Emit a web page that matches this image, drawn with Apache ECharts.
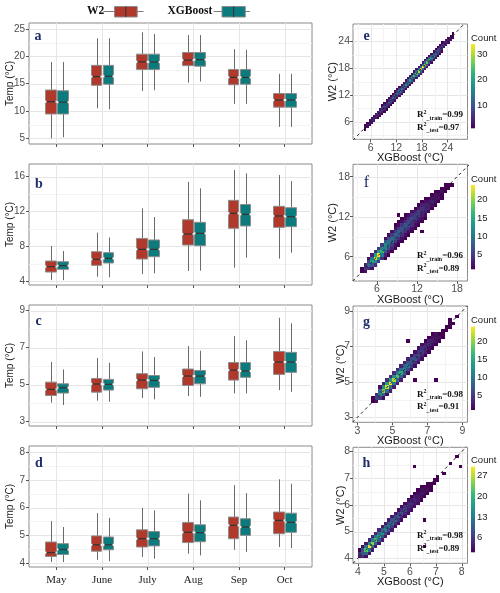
<!DOCTYPE html>
<html><head><meta charset="utf-8">
<script src="https://cdn.jsdelivr.net/npm/echarts@6/dist/echarts.min.js"></script>
<style>html,body{margin:0;padding:0;background:#fff}#c{width:500px;height:593px}</style>
</head><body><div id="c"></div>
<script>
// ---------------- data ----------------
const months = ['May','June','July','Aug','Sep','Oct'];
// box stats: [lowerWhisker, Q1, median, Q3, upperWhisker]
const aW2  = [[5.0,9.45,11.7,13.84,18.96],[10.5,14.7,16.3,18.35,23.3],[13.65,17.6,19.0,20.4,24.4],[15.2,18.3,19.3,20.7,23.9],[11.3,14.8,16.15,17.6,21.3],[7.1,10.7,12.0,13.2,16.8]];
const aXGB = [[5.2,9.45,11.6,13.7,18.96],[10.3,14.9,16.35,18.35,23.3],[13.8,17.6,18.95,20.4,24.1],[15.4,18.2,19.4,20.7,23.9],[11.3,14.9,16.15,17.6,21.2],[7.1,10.7,12.0,13.2,16.8]];
const bW2  = [[4.1,5.03,5.65,6.3,8.03],[4.5,5.8,6.5,7.37,9.56],[4.8,6.53,7.64,8.9,12.36],[5.15,8.14,9.4,11.05,15.4],[5.53,10.06,11.78,13.28,16.77],[6.57,10.17,11.48,12.59,16.19]];
const bXGB = [[4.1,5.34,5.76,6.22,7.45],[4.42,6.07,6.6,7.26,9.0],[4.88,6.8,7.64,8.72,11.36],[5.19,8.06,9.48,10.75,14.66],[6.68,10.33,11.67,12.8,16.38],[7.26,10.25,11.4,12.43,15.5]];
const cW2  = [[4.03,4.42,4.75,5.14,6.23],[4.14,4.6,5.04,5.34,6.44],[4.28,4.78,5.25,5.6,6.8],[4.39,4.96,5.47,5.85,7.09],[4.53,5.25,5.79,6.2,7.63],[4.71,5.56,6.23,6.8,8.62]];
const cXGB = [[3.9,4.55,4.84,5.05,5.83],[4.08,4.71,5.02,5.29,6.19],[4.21,4.86,5.23,5.5,6.5],[4.35,5.05,5.47,5.77,6.84],[4.53,5.4,5.74,6.2,7.4],[4.62,5.67,6.23,6.75,8.32]];
const dW2  = [[4.04,4.24,4.38,4.76,5.51],[4.12,4.43,4.66,4.98,5.8],[4.22,4.58,4.88,5.2,5.99],[4.34,4.74,5.11,5.46,6.5],[4.48,4.88,5.36,5.66,6.81],[4.58,5.06,5.54,5.84,7.02]];
const dXGB = [[4.04,4.31,4.49,4.7,5.3],[4.07,4.48,4.66,4.94,5.63],[4.16,4.62,4.88,5.14,5.9],[4.28,4.77,5.1,5.38,6.26],[4.4,5.0,5.3,5.6,6.52],[4.54,5.11,5.47,5.8,6.86]];

const aTicks = [5,10,15,20,25], aMinor = [7.5,12.5,17.5,22.5];
const bTicks = [4,8,12,16],     bMinor = [6,10,14];
const cTicks = [3,5,7,9],       cMinor = [4,6,8];
const dTicks = [4,5,6,7,8],     dMinor = [4.5,5.5,6.5,7.5];

// 2D-bin density: [binLeftX, firstBinBottomY, [counts upward]]
const eBin = 0.5;
const eCols = [
 [4.5,4.0,[1,2,1]],[5.0,4.5,[2,3,1]],[5.5,5.0,[2,3,2]],[6.0,5.5,[2,4,2]],[6.5,6.0,[3,5,2]],[7.0,6.5,[3,5,3]],
 [7.5,6.5,[1,3,6,3]],[8.0,7.0,[1,3,7,3]],[8.5,7.5,[1,4,7,4,1]],[9.0,8.0,[1,4,8,4,1]],[9.5,8.5,[1,4,9,5,1]],
 [10.0,9.0,[1,5,10,5,1]],[10.5,9.5,[1,5,10,5,1]],[11.0,10.0,[1,5,11,6,1]],[11.5,10.5,[2,6,12,6,2]],
 [12.0,11.0,[2,6,13,6,2]],[12.5,11.5,[2,7,14,7,2]],[13.0,12.0,[2,7,15,7,2]],[13.5,12.5,[2,7,16,8,2]],
 [14.0,13.0,[2,8,17,8,2]],[14.5,13.5,[2,8,19,9,2]],[15.0,14.0,[2,9,20,9,2]],[15.5,14.5,[2,10,22,10,2]],
 [16.0,15.0,[3,10,24,11,3]],[16.5,15.5,[3,11,26,11,3]],[17.0,16.0,[3,12,29,12,3]],[17.5,16.5,[3,12,32,13,3]],
 [18.0,17.0,[3,13,34,13,3]],[18.5,17.5,[3,12,30,12,3]],[19.0,18.0,[3,11,26,11,2]],[19.5,18.5,[2,10,22,10,2]],
 [20.0,19.0,[2,9,18,9,2]],[20.5,19.5,[2,8,15,8,2]],[21.0,20.0,[2,7,13,7,1]],[21.5,20.5,[1,6,11,6,1]],
 [22.0,21.0,[1,5,9,5,1]],[22.5,21.5,[1,4,8,4,1]],[23.0,22.5,[3,6,3]],[23.5,23.0,[3,5,2]],
 [24.0,23.5,[2,4,2]],[24.5,24.0,[2,3,1]],[25.0,24.5,[1,2,1]]
];
const eOut = [];
const fBin = 0.5;
const fCols = [
 [3.5,3.5,[1,1]],[4.0,3.5,[2,5,3]],[4.5,4.0,[4,9,6,2]],[5.0,4.0,[2,7,14,10,3]],
 [5.5,4.5,[4,12,22,14,4]],[6.0,5.0,[5,13,24,13,5]],[6.5,5.5,[4,10,16,11,5]],
 [7.0,5.5,[1,3,7,11,12,7,2]],[7.5,6.0,[1,3,6,9,10,6,2]],[8.0,6.5,[1,3,5,8,9,5,2]],
 [8.5,7.0,[1,2,5,7,8,5,2,1]],[9.0,7.5,[1,2,4,7,8,5,2,1]],[9.5,8.0,[1,2,4,6,7,5,2,1]],
 [10.0,8.5,[1,2,4,6,7,4,2,1]],[10.5,9.0,[1,2,4,6,6,4,2]],[11.0,9.5,[1,2,4,5,6,4,2]],
 [11.5,10.0,[1,2,3,5,5,3,1]],[12.0,10.5,[1,2,3,5,5,3,1]],[12.5,11.0,[1,2,3,4,4,3,1]],
 [13.0,11.5,[1,2,3,4,3,2,1]],[13.5,12.5,[2,3,3,2,1]],[14.0,13.0,[1,2,3,2,1]],
 [14.5,13.5,[1,2,2,2,1]],[15.0,14.0,[1,2,2,1]],[15.5,14.5,[1,1,2,1]],[16.0,15.5,[1,1,1]],
 [16.5,16.0,[1,1]],[17.0,16.5,[1]]
];
const fOut = [[12.5,9.5],[9.0,12.0]];
const gBin = 0.2;
const gCols = [
 [3.8,3.8,[1,1]],[4.0,3.8,[2,6,4]],[4.2,4.0,[5,12,8,2]],[4.4,4.0,[2,8,20,12,3]],
 [4.6,4.2,[2,9,22,14,4]],[4.8,4.4,[3,10,24,13,4]],[5.0,4.6,[3,10,21,12,4]],
 [5.2,4.8,[3,9,18,11,4]],[5.4,5.0,[3,8,15,9,3]],[5.6,5.2,[3,7,12,8,3]],
 [5.8,5.4,[2,6,10,7,3]],[6.0,5.6,[2,5,8,6,2]],[6.2,5.8,[2,4,7,5,2]],
 [6.4,6.0,[2,4,6,4,2]],[6.6,6.2,[2,3,5,4,2]],[6.8,6.4,[1,3,4,3,1]],
 [7.0,6.6,[1,2,4,3,1]],[7.2,6.8,[1,2,3,2,1]],[7.4,7.0,[1,2,2,2]],[7.6,7.2,[1,2,1]],
 [7.8,7.4,[1,1,1]],[8.0,7.8,[1,1]],[8.2,8.0,[1,1]],[8.4,8.2,[1]],[8.6,8.6,[1]]
];
const gOut = [[5.8,7.2],[6.2,5.0],[7.4,5.0],[8.2,8.4]];
const hBin = 0.125;
const hCols = [
 [4.0,4.0,[3,4,1]],[4.125,4.0,[5,12,8,2]],[4.25,4.0,[2,10,22,12,3]],[4.375,4.125,[3,12,30,14,4]],
 [4.5,4.25,[3,12,25,13,4]],[4.625,4.375,[3,10,21,12,4]],[4.75,4.5,[3,9,18,11,4]],
 [4.875,4.625,[3,8,16,10,3]],[5.0,4.75,[3,7,14,9,3]],[5.125,4.875,[3,7,13,8,3]],
 [5.25,5.0,[3,6,12,8,3]],[5.375,5.125,[2,5,10,7,3]],[5.5,5.25,[2,5,9,6,2]],
 [5.625,5.375,[2,4,8,5,2]],[5.75,5.5,[2,4,7,5,2]],[5.875,5.625,[2,3,6,4,2]],
 [6.0,5.75,[2,3,5,3,1]],[6.125,5.875,[2,3,4,3,1]],[6.25,6.0,[2,3,3,2,1]],
 [6.375,6.125,[1,2,3,2,1]],[6.5,6.25,[1,2,2,1]],[6.625,6.375,[1,2,1,1]],[6.75,6.5,[1,1,1]],
 [6.875,6.75,[1,1]],[7.0,6.875,[1,1]],[7.25,7.125,[1]],[7.5,7.5,[1]],[7.75,7.75,[1]]
];
const hOut = [[6.125,7.375],[7.875,7.375],[6.5,5.375],[6.5,4.375]];

const eTicks = [6,12,18,24], eMinor = [3,9,15,21,27];
const fTicks = [6,12,18],    fMinor = [3,9,15];
const gTicks = [3,5,7,9],    gMinor = [4,6,8];
const hTicks = [4,5,6,7,8],  hMinor = [4.5,5.5,6.5,7.5];
const eCb = [10,20,30], fCb = [5,10,15,20], gCb = [5,10,15,20], hCb = [6,13,20,27];
const eR2 = ['0.99','0.97'], fR2 = ['0.96','0.89'], gR2 = ['0.98','0.91'], hR2 = ['0.98','0.89'];

// ---------------- style ----------------
const SERIF = '"Liberation Serif","Times New Roman",serif';
const SANS = '"Liberation Sans",Arial,sans-serif';
const RED = '#B0392C', TEAL = '#0B7B7D';
const FRAME = '#8a8a8a', TICK = '#555', MAJ = '#e6e6e6', MIN = '#f3f3f3';
const WHISK = '#6a6a6a', BOXLINE = '#8c8c8c', MED = '#333';
const NAVY = '#1E2C6B';
const OFF = 0.13, BOXW = 0.235;
const VIR = ['#440154','#482878','#3E4A89','#31688E','#26828E','#1F9E89','#35B779','#6DCD59','#B4DE2C','#FDE725'];

function hex2rgb(h){return [parseInt(h.slice(1,3),16),parseInt(h.slice(3,5),16),parseInt(h.slice(5,7),16)];}
function viridis(t){
  t=Math.max(0,Math.min(1,t)); const s=t*(VIR.length-1); const i=Math.min(VIR.length-2,Math.floor(s)); const f=s-i;
  const a=hex2rgb(VIR[i]), b=hex2rgb(VIR[i+1]);
  return 'rgb('+a.map((v,k)=>Math.round(v+(b[k]-v)*f)).join(',')+')';
}

const leftPanels = [
 {letter:'a', top:23, height:121, min:3.96, max:26.1, ticks:aTicks, minor:aMinor, w2:aW2, xgb:aXGB, lx:38, ly:36.6},
 {letter:'b', top:164, height:121, min:3.54, max:17.46, ticks:bTicks, minor:bMinor, w2:bW2, xgb:bXGB, lx:39, ly:184},
 {letter:'c', top:305, height:121, min:2.77, max:9.31, ticks:cTicks, minor:cMinor, w2:cW2, xgb:cXGB, lx:38.5, ly:321.6},
 {letter:'d', top:446, height:121, min:3.86, max:8.22, ticks:dTicks, minor:dMinor, w2:dW2, xgb:dXGB, lx:39, ly:463}
];
const rightPanels = [
 {letter:'e', bold:true, top:24, height:115.3, xmin:1.85, xmax:28.7, ymin:2.05, ymax:27.9, ticks:eTicks, minor:eMinor, bin:eBin, cols:eCols, out:eOut, cb:eCb, cbTop:44, cbH:84.3, r2:eR2, r2y:115, nameGap:15, ly:36.6},
 {letter:'f', bold:false, top:164.3, height:116.7, xmin:2.4, xmax:19.56, ymin:2.36, ymax:19.86, ticks:fTicks, minor:fMinor, bin:fBin, cols:fCols, out:fOut, cb:fCb, cbTop:185, cbH:84.3, r2:fR2, r2y:256, nameGap:15, ly:183},
 {letter:'g', bold:true, top:306, height:116.3, xmin:2.75, xmax:9.29, ymin:2.72, ymax:9.28, ticks:gTicks, minor:gMinor, bin:gBin, cols:gCols, out:gOut, cb:gCb, cbTop:326.7, cbH:83.3, r2:gR2, r2y:394.3, nameGap:7, ly:322.5},
 {letter:'h', bold:true, top:447.3, height:116, xmin:3.81, xmax:8.22, ymin:3.81, ymax:8.16, ticks:hTicks, minor:hMinor, bin:hBin, cols:hCols, out:hOut, cb:hCb, cbTop:466.7, cbH:85.6, r2:hR2, r2y:535.7, nameGap:7, ly:463}
];

const grid=[], xAxis=[], yAxis=[], series=[], graphic=[];
const catPos = months.map((m,i)=>i+1);

function gridLineSeries(gi, hMaj, hMin, vMaj, vMin){
  const data=[];
  hMaj.forEach(v=>data.push([v,v,0])); hMin.forEach(v=>data.push([v,v,1]));
  vMaj.forEach(v=>data.push([v,v,2])); vMin.forEach(v=>data.push([v,v,3]));
  return {type:'custom', xAxisIndex:gi, yAxisIndex:gi, silent:true, z:1, encode:{x:0,y:1}, data,
    renderItem:(params, api)=>{
      const cs=params.coordSys; const k=api.value(2); const p=api.coord([api.value(0),api.value(1)]);
      const col = (k===0||k===2)?MAJ:MIN;
      if(k<2){ const y=Math.round(p[1])+0.5; if(y<cs.y||y>cs.y+cs.height) return null;
        return {type:'line', shape:{x1:cs.x,y1:y,x2:cs.x+cs.width,y2:y}, style:{stroke:col,lineWidth:1}}; }
      const x=Math.round(p[0])+0.5; if(x<cs.x||x>cs.x+cs.width) return null;
      return {type:'line', shape:{x1:x,y1:cs.y,x2:x,y2:cs.y+cs.height}, style:{stroke:col,lineWidth:1}};
    }};
}

function boxSeries(gi, stats, off, fill, name){
  return {type:'custom', name, xAxisIndex:gi, yAxisIndex:gi, z:3, encode:{x:0,y:1},
    data: stats.map((r,i)=>[i+1].concat(r)),
    renderItem:(params, api)=>{
      const c=api.value(0)+off;
      const yv=k=>api.coord([c, api.value(k)])[1];
      const L=Math.round(api.coord([c-BOXW/2, 0])[0])+0.5, R=Math.round(api.coord([c+BOXW/2, 0])[0])+0.5;
      const X=Math.round((L+R)/2)+0.5;
      const yLo=yv(1), yQ1=yv(2), yMd=yv(3), yQ3=yv(4), yHi=yv(5);
      const n=1.6, ins=1.4;
      const pts=[[L,yQ1],[L,yMd+n],[L+ins,yMd],[L,yMd-n],[L,yQ3],[R,yQ3],[R,yMd-n],[R-ins,yMd],[R,yMd+n],[R,yQ1]];
      return {type:'group', children:[
        {type:'line', shape:{x1:X,y1:yHi,x2:X,y2:yQ3}, style:{stroke:WHISK,lineWidth:1}},
        {type:'line', shape:{x1:X,y1:yQ1,x2:X,y2:yLo}, style:{stroke:WHISK,lineWidth:1}},
        {type:'polygon', shape:{points:pts}, style:{fill, stroke:BOXLINE, lineWidth:1}},
        {type:'line', shape:{x1:L+ins,y1:yMd,x2:R-ins,y2:yMd}, style:{stroke:MED,lineWidth:1.2}}
      ]};
    }};
}

// ---- left panels ----
leftPanels.forEach((p,i)=>{
  const gi=grid.length;
  grid.push({left:29, top:p.top, width:283, height:p.height, show:true, borderColor:FRAME, borderWidth:1, backgroundColor:'#fff', containLabel:false, outerBoundsMode:'none'});
  xAxis.push({gridIndex:gi, type:'value', min:0.4, max:6.6, axisLine:{show:false}, splitLine:{show:false},
    axisTick:{show:true, customValues:catPos, length:3, lineStyle:{color:TICK}},
    axisLabel:{show:i===3, customValues:catPos, formatter:v=>months[Math.round(v)-1]||'', fontFamily:SERIF, fontSize:11, color:'#1a1a1a', margin:8}});
  yAxis.push({gridIndex:gi, type:'value', min:p.min, max:p.max, axisLine:{show:false}, splitLine:{show:false},
    axisTick:{show:true, customValues:p.ticks, length:3, lineStyle:{color:TICK}},
    axisLabel:{customValues:p.ticks, fontFamily:SANS, fontSize:10, color:'#4d4d4d', margin:4},
    name:'Temp (°C)', nameLocation:'middle', nameGap:14, nameMoveOverlap:false, nameTextStyle:{fontFamily:SANS, fontSize:10, color:'#1a1a1a'}});
  series.push(gridLineSeries(gi, p.ticks, p.minor, catPos, []));
  series.push(boxSeries(gi, p.w2, -OFF, RED, 'W2'));
  series.push(boxSeries(gi, p.xgb, OFF, TEAL, 'XGBoost'));
  graphic.push({type:'text', x:p.lx, y:p.ly, z:10, style:{text:p.letter, fontFamily:SERIF, fontWeight:'bold', fontSize:14, fill:NAVY, align:'center', verticalAlign:'middle'}});
});

// ---- right panels ----
rightPanels.forEach(p=>{
  const gi=grid.length;
  grid.push({left:353, top:p.top, width:114.5, height:p.height, show:true, borderColor:FRAME, borderWidth:1, backgroundColor:'#fff', containLabel:false, outerBoundsMode:'none'});
  xAxis.push({gridIndex:gi, type:'value', min:p.xmin, max:p.xmax, axisLine:{show:false}, splitLine:{show:false},
    axisTick:{show:true, customValues:p.ticks, length:3, lineStyle:{color:TICK}},
    axisLabel:{customValues:p.ticks, fontFamily:SANS, fontSize:10.5, color:'#4d4d4d', margin:3},
    name:'XGBoost (°C)', nameLocation:'middle', nameGap:13, nameMoveOverlap:false, nameTextStyle:{fontFamily:SANS, fontSize:11, color:'#1a1a1a'}});
  yAxis.push({gridIndex:gi, type:'value', min:p.ymin, max:p.ymax, axisLine:{show:false}, splitLine:{show:false},
    axisTick:{show:true, customValues:p.ticks, length:3, lineStyle:{color:TICK}},
    axisLabel:{customValues:p.ticks, fontFamily:SANS, fontSize:10.5, color:'#4d4d4d', margin:3},
    name:'W2 (°C)', nameLocation:'middle', nameGap:p.nameGap, nameMoveOverlap:false, nameTextStyle:{fontFamily:SANS, fontSize:11, color:'#1a1a1a'}});
  series.push(gridLineSeries(gi, p.ticks, p.minor, p.ticks, p.minor));
  const cells=[];
  p.cols.forEach(([x0,ys,cs])=>cs.forEach((c,k)=>cells.push([x0, ys+k*p.bin, c])));
  p.out.forEach(([x,y])=>cells.push([x,y,1]));
  const counts=cells.map(d=>d[2]); const cmin=Math.min(...counts), cmax=Math.max(...counts);
  const bin=p.bin;
  series.push({type:'custom', xAxisIndex:gi, yAxisIndex:gi, z:2, silent:true, clip:true, encode:{x:0,y:1}, data:cells,
    renderItem:(params, api)=>{
      const a=api.coord([api.value(0), api.value(1)+bin]), b=api.coord([api.value(0)+bin, api.value(1)]);
      const x1=Math.round(a[0]), y1=Math.round(a[1]), x2=Math.round(b[0]), y2=Math.round(b[1]);
      return {type:'rect', shape:{x:x1,y:y1,width:Math.max(1,x2-x1),height:Math.max(1,y2-y1)},
        style:{fill:viridis((api.value(2)-cmin)/(cmax-cmin))}};
    }});
  const lo=Math.min(p.xmin,p.ymin), hi=Math.max(p.xmax,p.ymax);
  series.push({type:'line', xAxisIndex:gi, yAxisIndex:gi, z:4, silent:true, clip:true, symbol:'none', data:[[lo,lo],[hi,hi]],
    lineStyle:{color:'#222', width:1, type:[3,3]}});
  // colorbar
  const ci=grid.length;
  grid.push({left:471, top:p.cbTop, width:4, height:p.cbH, show:false, containLabel:false, outerBoundsMode:'none'});
  xAxis.push({gridIndex:ci, type:'value', min:0, max:1, show:false});
  yAxis.push({gridIndex:ci, type:'value', min:cmin, max:cmax, position:'left', axisLine:{show:false}, axisTick:{show:false}, splitLine:{show:false},
    axisLabel:{inside:true, customValues:p.cb, margin:6, fontFamily:SANS, fontSize:9.5, color:'#1a1a1a'},
    name:'Count', nameLocation:'end', nameGap:1, nameMoveOverlap:false, nameTextStyle:{align:'left', fontFamily:SANS, fontSize:9.5, color:'#1a1a1a'}});
  series.push({type:'custom', xAxisIndex:ci, yAxisIndex:ci, silent:true, encode:{x:0,y:1}, data:[[0,cmin,cmax]],
    renderItem:(params, api)=>{
      const a=api.coord([0, api.value(2)]), b=api.coord([1, api.value(1)]);
      const stops=VIR.map((c,k)=>({offset:k/(VIR.length-1), color:c}));
      return {type:'rect', shape:{x:a[0],y:a[1],width:b[0]-a[0],height:b[1]-a[1]},
        style:{fill:new echarts.graphic.LinearGradient(0,1,0,0,stops)}};
    }});
  // annotations
  graphic.push({type:'text', x:366.5, y:p.ly, z:10, style:{text:p.letter, fontFamily:SERIF, fontWeight:p.bold?'bold':'normal', fontSize:p.bold?14:16, fill:NAVY, align:'center', verticalAlign:'middle'}});
  const rich={a:{fontFamily:SERIF,fontWeight:'bold',fontSize:9,lineHeight:12,verticalAlign:'middle',fill:'#111'},
              s:{fontFamily:SERIF,fontWeight:'bold',fontSize:6,lineHeight:12,verticalAlign:'top',fill:'#111'},
              b:{fontFamily:SERIF,fontWeight:'bold',fontSize:6,lineHeight:12,verticalAlign:'bottom',fill:'#111'}};
  graphic.push({type:'text', x:417, y:p.r2y, z:10, style:{text:'{a|R}{s|2}{b|_train}{a|='+p.r2[0]+'}', rich, align:'left', verticalAlign:'middle'}});
  graphic.push({type:'text', x:417, y:p.r2y+12.7, z:10, style:{text:'{a|R}{s|2}{b|_test}{a|='+p.r2[1]+'}', rich, align:'left', verticalAlign:'middle'}});
});

// ---- legend ----
function legendKey(x0, x1, bx, bw, fill){
  return [
    {type:'line', shape:{x1:x0,y1:11.5,x2:x1,y2:11.5}, style:{stroke:'#7a7a7a',lineWidth:1}},
    {type:'rect', shape:{x:bx+0.5,y:6.5,width:bw,height:10.5}, style:{fill, stroke:'#8c8c8c', lineWidth:1}},
    {type:'line', shape:{x1:bx+0.5+bw/2,y1:6.5,x2:bx+0.5+bw/2,y2:17}, style:{stroke:'#333',lineWidth:1}}
  ];
}
graphic.push({type:'text', x:87, y:11.5, style:{text:'W2', fontFamily:SERIF, fontWeight:'bold', fontSize:11.5, fill:'#111', align:'left', verticalAlign:'middle'}});
legendKey(103.5,143.5,114,22.7,RED).forEach(g=>graphic.push(g));
graphic.push({type:'text', x:167.5, y:11.5, style:{text:'XGBoost', fontFamily:SERIF, fontWeight:'bold', fontSize:11.5, fill:'#111', align:'left', verticalAlign:'middle'}});
legendKey(213.5,250,221.5,23.3,TEAL).forEach(g=>graphic.push(g));

const chart = echarts.init(document.getElementById('c'), null, {renderer:'canvas'});
chart.setOption({animation:false, backgroundColor:'#fff', grid, xAxis, yAxis, series, graphic});
</script>
</body></html>
